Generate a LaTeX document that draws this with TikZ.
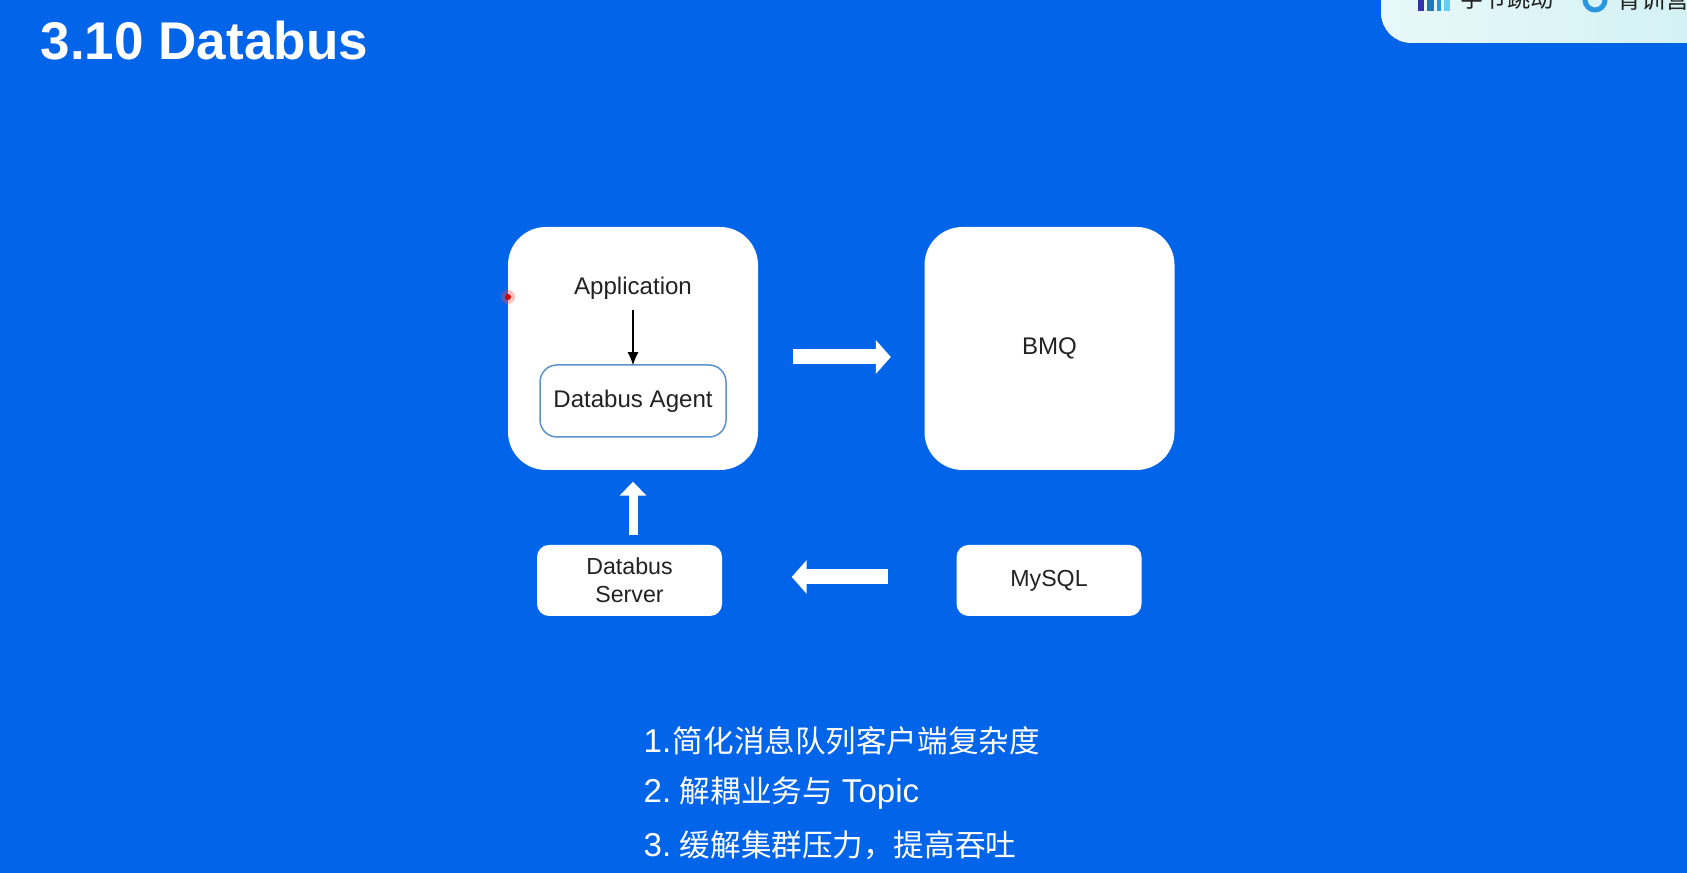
\documentclass[tikz,border=0pt]{standalone}
\usepackage{fontspec}
\setmainfont{Liberation Sans}
\newfontfamily\cjk{Noto Sans CJK SC}
\usetikzlibrary{arrows.meta}

\definecolor{slideblue}{RGB}{2,100,232}
\definecolor{agentline}{RGB}{92,147,205}
\definecolor{darktext}{RGB}{34,34,34}
\definecolor{badgeleft}{RGB}{232,248,250}
\definecolor{badgeright}{RGB}{208,240,242}
\definecolor{ringblue}{RGB}{40,150,225}

\tikzset{
    bigbox/.style={fill=white, rounded corners=0.38cm, minimum width=2.50cm, minimum height=2.43cm, inner sep=0pt, text=darktext, font=\fontsize{6.85}{8}\selectfont},
    smallbox/.style={fill=white, rounded corners=0.12cm, minimum width=1.85cm, minimum height=0.71cm, inner sep=0pt, align=center, text=darktext, font=\fontsize{6.6}{8}\selectfont},
    listline/.style={anchor=west, inner sep=0pt, text=white, font=\fontsize{9.4}{11}\selectfont},
    bigarrow/.style={-{Triangle[length=0.15cm,width=0.33cm]}, line width=0.15cm, white}
}
\newcommand{\listcjk}[1]{{\fontsize{8.7}{11}\selectfont\cjk #1}}

\begin{document}
\begin{tikzpicture}

\useasboundingbox (0,0) rectangle (16.87,8.73);
\clip (0,0) rectangle (16.87,8.73);
\fill [slideblue] (0,0) rectangle (16.87,8.73);

% Title and badge
\node [anchor=west, inner sep=0pt, text=white, font=\fontsize{15.1}{18}\selectfont\bfseries] (title) at (0.40, 8.32) {3.10 Databus};

\fill [rounded corners=0.3cm, left color=badgeleft, right color=badgeright] (13.81, 8.30) rectangle (17.4, 9.4);
\fill [blue!60!black!80] (14.18, 8.62) rectangle (14.24, 8.73);
\fill [ringblue!80!black] (14.27, 8.62) rectangle (14.34, 8.73);
\fill [ringblue] (14.37, 8.62) rectangle (14.41, 8.73);
\fill [cyan!60] (14.44, 8.62) rectangle (14.50, 8.73);
\node [inner sep=0pt, text=darktext, font=\fontsize{6.6}{8}\selectfont\cjk] (bytedance) at (15.07, 8.74) {字节跳动};
\draw [line width=0.05cm, ringblue] (15.95, 8.73) circle (0.10);
\node [anchor=west, inner sep=0pt, text=darktext, font=\fontsize{6.8}{8}\selectfont\cjk] (camp) at (16.17, 8.74) {青训营};

% Upper boxes
\node [bigbox] (appbox) at (6.33, 5.245) {};
\node [bigbox] (bmq) at (10.495, 5.245) {\raisebox{-0.03cm}{BMQ}};
\node [text=darktext, font=\fontsize{6.85}{8}\selectfont] (application) at (6.33, 5.85) {Application};
\node [smallbox, draw=agentline, line width=0.015cm, rounded corners=0.17cm, minimum width=1.86cm, minimum height=0.72cm, font=\fontsize{6.85}{8}\selectfont] (agent) at (6.33, 4.72) {\raisebox{-0.02cm}{Databus Agent}};

% Lower boxes
\node [smallbox] (dbserver) at (6.295, 2.925) {Databus\\Server};
\node [smallbox] (mysql) at (10.49, 2.925) {\raisebox{-0.01cm}{MySQL}};

% Arrows
\draw [-{Latex[length=0.13cm,width=0.11cm]}, line width=0.012cm, black, shorten <=-0.02cm, shorten >=-0.01cm] (application.south) -- (agent.north);
\draw [bigarrow, shorten <=0.34cm, shorten >=0.33cm] ([yshift=-0.085cm]appbox.east) -- ([yshift=-0.085cm]bmq.west);
\draw [bigarrow, shorten <=0.68cm, shorten >=0.69cm] ([yshift=0.035cm]mysql.west) -- ([yshift=0.035cm]dbserver.east);
\draw [bigarrow, line width=0.09cm, -{Triangle[length=0.14cm,width=0.26cm]}, shorten <=0.09cm, shorten >=0.11cm] (dbserver.north -| appbox.south) -- (appbox.south);

% Pointer
\fill [red!70, opacity=0.35] (5.08, 5.76) circle (0.07);
\fill [red!80!black] (5.08, 5.76) circle (0.03);

% List
\node [listline] (first) at (6.43, 1.32) {1.\hspace{-0.106cm} \listcjk{简化消息队列客户端复杂度}};
\node [listline] (second) at (6.43, 0.80) {2.\hspace{-0.036cm} \listcjk{解耦业务与} Topic};
\node [listline] (third) at (6.43, 0.28) {3.\hspace{-0.036cm} \listcjk{缓解集群压力，提高吞吐}};

\end{tikzpicture}
\end{document}
